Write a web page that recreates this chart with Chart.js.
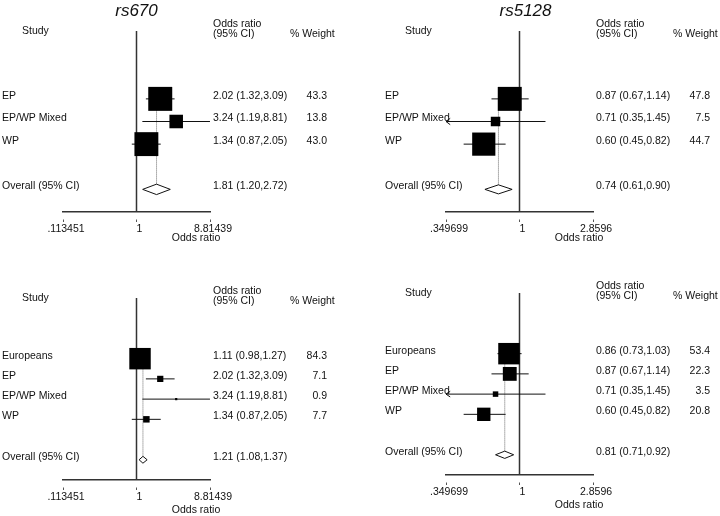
<!DOCTYPE html>
<html>
<head>
<meta charset="utf-8">
<title>rs670 / rs5128 forest plots</title>
<script src="https://cdn.jsdelivr.net/npm/chart.js@4"></script>
<style>
  html, body { margin: 0; padding: 0; background: #fff; }
  #wrap { position: relative; width: 720px; height: 516px; overflow: hidden; }
  #wrap canvas { position: absolute; }
</style>
</head>
<body>
<div id="wrap">
  <canvas id="plotTL" width="360" height="258" style="left:0;top:0"></canvas>
  <canvas id="plotTR" width="360" height="258" style="left:360px;top:0"></canvas>
  <canvas id="plotBL" width="360" height="258" style="left:0;top:258px"></canvas>
  <canvas id="plotBR" width="360" height="258" style="left:360px;top:258px"></canvas>
</div>

<script>
/* ---- Data ---- */

// rs670, subgroups only
const rs670Studies = ["EP", "EP/WP Mixed", "WP"];
const rs670OR      = [2.02, 3.24, 1.34];
const rs670Low     = [1.32, 1.19, 0.87];
const rs670High    = [3.09, 8.81, 2.05];
const rs670Weight  = [43.3, 13.8, 43.0];
const rs670Overall = [1.81, 1.20, 2.72];   // estimate, low, high

// rs5128, subgroups only
const rs5128Studies = ["EP", "EP/WP Mixed", "WP"];
const rs5128OR      = [0.87, 0.71, 0.60];
const rs5128Low     = [0.67, 0.35, 0.45];
const rs5128High    = [1.14, 1.45, 0.82];
const rs5128Weight  = [47.8, 7.5, 44.7];
const rs5128Overall = [0.74, 0.61, 0.90];

// rs670, with Europeans
const rs670AllStudies = ["Europeans", "EP", "EP/WP Mixed", "WP"];
const rs670AllOR      = [1.11, 2.02, 3.24, 1.34];
const rs670AllLow     = [0.98, 1.32, 1.19, 0.87];
const rs670AllHigh    = [1.27, 3.09, 8.81, 2.05];
const rs670AllWeight  = [84.3, 7.1, 0.9, 7.7];
const rs670AllOverall = [1.21, 1.08, 1.37];

// rs5128, with Europeans
const rs5128AllStudies = ["Europeans", "EP", "EP/WP Mixed", "WP"];
const rs5128AllOR      = [0.86, 0.87, 0.71, 0.60];
const rs5128AllLow     = [0.73, 0.67, 0.35, 0.45];
const rs5128AllHigh    = [1.03, 1.14, 1.45, 0.82];
const rs5128AllWeight  = [53.4, 22.3, 3.5, 20.8];
const rs5128AllOverall = [0.81, 0.71, 0.92];

// axis ticks
const rs670Ticks       = [0.113451, 1, 8.81439];
const rs670TickLabels  = [".113451", "1", "8.81439"];
const rs5128Ticks      = [0.349699, 1, 2.8596];
const rs5128TickLabels = [".349699", "1", "2.8596"];


/* ---- Look ---- */
const FONT_FAMILY = "'Liberation Sans', Arial, Helvetica, sans-serif";
const TEXT_SIZE = 10.5;
const INK = "#111";
const AXIS_H = 30;

Chart.defaults.font.family = FONT_FAMILY;
Chart.defaults.font.size = TEXT_SIZE;
Chart.defaults.color = INK;


/* ---- Text columns (labels, OR (95% CI), % weight) ---- */
function forestTextPlugin(p) {
  return {
    id: "forestText",
    afterDraw(chart) {
      const { ctx, chartArea: a, scales } = chart;
      const ys = scales.y;
      const xs = scales.x;
      const n = p.studies.length;
      const rowY = r => ys.getPixelForValue(r) - 3;
      const labelX = a.left - 61;
      const orX = a.right + 3;
      const wRight = a.right + 117;
      const fmt = (e, lo, hi) => `${e.toFixed(2)} (${lo.toFixed(2)},${hi.toFixed(2)})`;

      ctx.save();
      ctx.fillStyle = INK;
      ctx.textBaseline = "middle";

      if (p.title) {
        ctx.font = `italic 17px ${FONT_FAMILY}`;
        ctx.textAlign = "center";
        ctx.fillText(p.title, xs.getPixelForValue(1) + p.titleShift, 11);
      }

      ctx.font = `${TEXT_SIZE}px ${FONT_FAMILY}`;
      ctx.textAlign = "left";
      ctx.fillText("Study", labelX + 20, a.top);
      ctx.fillText("Odds ratio", orX, a.top - 7);
      ctx.fillText("(95% CI)", orX, a.top + 3);
      ctx.fillText("% Weight", a.right + 80, a.top + 3);

      p.studies.forEach((s, i) => {
        const y = rowY(i);
        ctx.textAlign = "left";
        ctx.fillText(s, labelX, y);
        ctx.fillText(fmt(p.or[i], p.low[i], p.high[i]), orX, y);
        ctx.textAlign = "right";
        ctx.fillText(p.weight[i].toFixed(1), wRight, y);
      });

      const oy = rowY(n + 1);
      ctx.textAlign = "left";
      ctx.fillText("Overall (95% CI)", labelX, oy);
      ctx.fillText(fmt(p.overall[0], p.overall[1], p.overall[2]), orX, oy);

      ctx.textAlign = "center";
      ctx.fillText("Odds ratio", a.right - 14, a.bottom + p.axisTitleGap);
      ctx.restore();
    }
  };
}


/* ---- One forest panel ---- */
function initForest(canvasId, p) {
  const el = document.getElementById(canvasId);
  if (!el) return;

  const n = p.studies.length;
  const overallRow = n + 1;
  const yMin = -3;
  const yMax = n + 2;
  const xMin = p.ticks[0];
  const xMax = p.ticks[p.ticks.length - 1];
  const maxWeight = Math.max(...p.weight);
  const dH = p.diamondH;    // diamond half height, in rows
  const arrowLen = 0.06;    // arrow head length, in log units

  const datasets = [];

  // study boxes, area ~ weight
  datasets.push({
    type: "scatter",
    order: 0,
    data: p.or.map((v, i) => ({ x: v, y: i })),
    pointStyle: "rect",
    backgroundColor: "#000",
    borderWidth: 0,
    pointRadius: ctx => {
      const ys = ctx.chart.scales.y;
      const rowPx = Math.abs(ys.getPixelForValue(1) - ys.getPixelForValue(0));
      const w = p.weight[ctx.dataIndex] || 0;
      const side = 1.06 * rowPx * Math.sqrt(w / maxWeight);
      return side / Math.SQRT2;
    }
  });

  // overall diamond
  const [oe, olo, ohi] = p.overall;
  datasets.push({
    type: "line",
    order: 1,
    data: [
      { x: olo, y: overallRow },
      { x: oe, y: overallRow - dH },
      { x: ohi, y: overallRow },
      { x: oe, y: overallRow + dH },
      { x: olo, y: overallRow }
    ],
    borderColor: "#111",
    borderWidth: 1,
    pointRadius: 0,
    fill: false,
    tension: 0
  });

  // confidence intervals (+ arrow where the CI reaches the axis end)
  p.studies.forEach((s, i) => {
    const lo = Math.max(p.low[i], xMin);
    const hi = Math.min(p.high[i], xMax);
    datasets.push({
      type: "line",
      order: 2,
      data: [{ x: lo, y: i }, { x: hi, y: i }],
      borderColor: "#111",
      borderWidth: 1,
      pointRadius: 0,
      fill: false
    });
    if (p.low[i] <= xMin * 1.001) {
      const tip = xMin * Math.exp(arrowLen);
      datasets.push({
        type: "line",
        order: 2,
        data: [{ x: tip, y: i - 0.14 }, { x: xMin, y: i }, { x: tip, y: i + 0.14 }],
        borderColor: "#111",
        borderWidth: 1,
        pointRadius: 0,
        fill: false
      });
    }
  });

  // dotted line at the pooled estimate
  datasets.push({
    type: "line",
    order: 3,
    data: [{ x: oe, y: -0.5 }, { x: oe, y: overallRow - dH }],
    borderColor: "#6a6a6a",
    borderWidth: 1,
    borderDash: [1, 1],
    pointRadius: 0,
    fill: false
  });

  // line of no effect
  datasets.push({
    type: "line",
    order: 4,
    data: [{ x: 1, y: yMin }, { x: 1, y: yMax }],
    borderColor: "#333",
    borderWidth: 1.5,
    pointRadius: 0,
    fill: false
  });

  const W = el.width, H = el.height;

  new Chart(el, {
    data: { datasets },
    options: {
      responsive: false,
      animation: false,
      events: [],
      layout: {
        padding: {
          left: p.area.left,
          right: W - p.area.right,
          top: p.area.top,
          bottom: H - p.area.bottom - AXIS_H
        }
      },
      plugins: {
        legend: { display: false },
        tooltip: { enabled: false }
      },
      scales: {
        x: {
          type: "logarithmic",
          bounds: "data",   // keep the exact min/max, no rounding to ticks
          min: xMin,
          max: xMax,
          afterBuildTicks: scale => {
            scale.ticks = p.ticks.map(v => ({ value: v }));
          },
          afterFit: scale => { scale.height = AXIS_H; },
          ticks: {
            callback: (v, i) => p.tickLabels[i],
            autoSkip: false,
            maxRotation: 0,
            padding: 1,
            labelOffset: 3,
            color: INK,
            font: { size: TEXT_SIZE }
          },
          grid: {
            drawOnChartArea: false,
            drawTicks: true,
            tickLength: 10,
            tickBorderDash: [0, 7, 3, 50],
            tickColor: "#555",
            tickWidth: 1
          },
          border: { display: true, color: "#333", width: 1.5 }
        },
        y: {
          type: "linear",
          min: yMin,
          max: yMax,
          reverse: true,
          display: false
        }
      }
    },
    plugins: [forestTextPlugin(p)]
  });
}


document.addEventListener("DOMContentLoaded", () => {
  initForest("plotTL", {
    title: "rs670", titleShift: 0, axisTitleGap: 26, diamondH: 0.23,
    studies: rs670Studies, or: rs670OR, low: rs670Low, high: rs670High,
    weight: rs670Weight, overall: rs670Overall,
    ticks: rs670Ticks, tickLabels: rs670TickLabels,
    area: { left: 63, right: 210, top: 31, bottom: 212 }
  });
  initForest("plotTR", {
    title: "rs5128", titleShift: 6, axisTitleGap: 26, diamondH: 0.2,
    studies: rs5128Studies, or: rs5128OR, low: rs5128Low, high: rs5128High,
    weight: rs5128Weight, overall: rs5128Overall,
    ticks: rs5128Ticks, tickLabels: rs5128TickLabels,
    area: { left: 86, right: 233, top: 31, bottom: 212 }
  });
  initForest("plotBL", {
    title: "", titleShift: 0, axisTitleGap: 30, diamondH: 0.17,
    studies: rs670AllStudies, or: rs670AllOR, low: rs670AllLow, high: rs670AllHigh,
    weight: rs670AllWeight, overall: rs670AllOverall,
    ticks: rs670Ticks, tickLabels: rs670TickLabels,
    area: { left: 63, right: 210, top: 40, bottom: 222 }
  });
  initForest("plotBR", {
    title: "", titleShift: 0, axisTitleGap: 30, diamondH: 0.18,
    studies: rs5128AllStudies, or: rs5128AllOR, low: rs5128AllLow, high: rs5128AllHigh,
    weight: rs5128AllWeight, overall: rs5128AllOverall,
    ticks: rs5128Ticks, tickLabels: rs5128TickLabels,
    area: { left: 86, right: 233, top: 35, bottom: 217 }
  });
});
</script>
</body>
</html>
